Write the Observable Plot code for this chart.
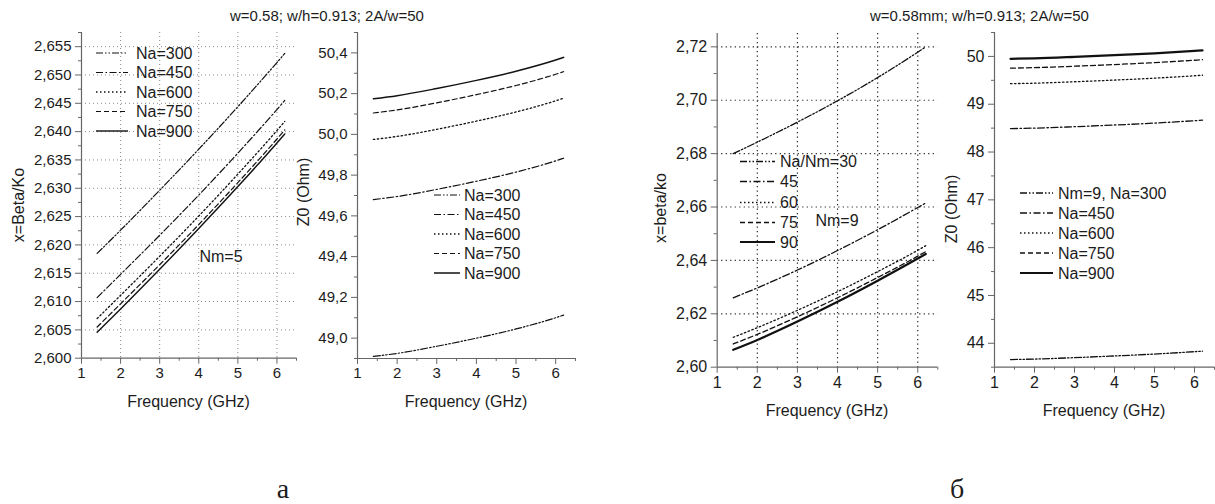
<!DOCTYPE html>
<html><head><meta charset="utf-8">
<script src="https://cdn.jsdelivr.net/npm/d3@7"></script>
<script src="https://cdn.jsdelivr.net/npm/@observablehq/plot@0.6"></script>
<style>
html,body{margin:0;padding:0;background:#fff;}
#wrap{position:relative;width:1215px;height:504px;overflow:hidden;font-family:"Liberation Sans",Arial,sans-serif;}
#wrap svg{position:absolute;left:0;top:0;}
</style></head><body><div id="wrap"></div>
<script>
// ---------- data ----------
const freq = [1.4, 2, 3, 4, 5, 6, 6.2];
const xTicks = [1, 2, 3, 4, 5, 6];
const xMinor = [1.5, 2.5, 3.5, 4.5, 5.5, 6.5];

// panel a-left: x = Beta/Ko, Nm=5
const labelsA1 = ["Na=300", "Na=450", "Na=600", "Na=750", "Na=900"];
const betaA_300 = [2.6185, 2.6226, 2.62965, 2.6369, 2.6444, 2.6522, 2.6538];
const betaA_450 = [2.6107, 2.6148, 2.6217, 2.6288, 2.6362, 2.6439, 2.6455];
const betaA_600 = [2.6070, 2.6111, 2.6180, 2.6251, 2.6325, 2.6402, 2.6418];
const betaA_750 = [2.6055, 2.6096, 2.6165, 2.6236, 2.6310, 2.6387, 2.6403];
const betaA_900 = [2.6046, 2.6087, 2.6157, 2.6229, 2.6303, 2.6380, 2.6396];
const yTicksA1 = [2.600, 2.605, 2.610, 2.615, 2.620, 2.625, 2.630, 2.635, 2.640, 2.645, 2.650, 2.655];

// panel a-right: Z0
const labelsA2 = ["Na=300", "Na=450", "Na=600", "Na=750", "Na=900"];
const z0A_300 = [48.910, 48.925, 48.960, 49.000, 49.045, 49.100, 49.113];
const z0A_450 = [49.680, 49.695, 49.730, 49.770, 49.815, 49.870, 49.883];
const z0A_600 = [49.975, 49.990, 50.025, 50.065, 50.110, 50.165, 50.178];
const z0A_750 = [50.105, 50.120, 50.155, 50.195, 50.240, 50.295, 50.308];
const z0A_900 = [50.175, 50.190, 50.225, 50.265, 50.310, 50.365, 50.378];
const yTicksA2 = [49.0, 49.2, 49.4, 49.6, 49.8, 50.0, 50.2, 50.4];

// panel b-left: x = beta/ko, Nm=9
const labelsB1 = ["Na/Nm=30", "45", "60", "75", "90"];
const betaB_30 = [2.6800, 2.6843, 2.6918, 2.6998, 2.7085, 2.7180, 2.7200];
const betaB_45 = [2.6260, 2.6297, 2.6364, 2.6437, 2.6515, 2.6598, 2.6615];
const betaB_60 = [2.6112, 2.6148, 2.6213, 2.6283, 2.6358, 2.6438, 2.6455];
const betaB_75 = [2.6087, 2.6123, 2.6189, 2.6260, 2.6336, 2.6416, 2.6433];
const betaB_90 = [2.6065, 2.6102, 2.6171, 2.6245, 2.6324, 2.6407, 2.6424];
const yTicksB1 = [2.60, 2.62, 2.64, 2.66, 2.68, 2.70, 2.72];

// panel b-right: Z0
const labelsB2 = ["Nm=9, Na=300", "Na=450", "Na=600", "Na=750", "Na=900"];
const z0B_300 = [43.660, 43.670, 43.700, 43.735, 43.775, 43.825, 43.836];
const z0B_450 = [48.490, 48.500, 48.530, 48.565, 48.605, 48.655, 48.666];
const z0B_600 = [49.430, 49.440, 49.470, 49.505, 49.545, 49.595, 49.606];
const z0B_750 = [49.755, 49.765, 49.795, 49.830, 49.870, 49.920, 49.931];
const z0B_900 = [49.950, 49.960, 49.990, 50.025, 50.065, 50.115, 50.126];
const yTicksB2 = [44, 45, 46, 47, 48, 49, 50];

// ---------- styling ----------
const W = 1215, H = 504;
const axisColor = "#666";
const textColor = "#1c1c1c";
const lineColor = "#111";
const dashes = ["7,2,1.5,2,1.5,2", "7,2.5,1.5,2.5", "1.5,2.5", "5,3", null];
const loc = d3.formatLocale({decimal: ",", thousands: " ", grouping: [3], currency: ["", ""]});
const mids = (t, step) => [...d3.pairs(t).map(([a, b]) => (a + b) / 2), t[t.length - 1] + step / 2];

function makePanel(cfg) {
  const marks = [];
  if (cfg.grid) {
    marks.push(Plot.gridX({ticks: xTicks.slice(1), stroke: cfg.grid.stroke, strokeOpacity: 1, strokeWidth: cfg.grid.width, strokeDasharray: cfg.grid.dash}));
    marks.push(Plot.gridY({ticks: cfg.yTicks.slice(1), stroke: cfg.grid.stroke, strokeOpacity: 1, strokeWidth: cfg.grid.width, strokeDasharray: cfg.grid.dash}));
  }
  marks.push(Plot.ruleX([cfg.xDomain[0]], {stroke: axisColor, strokeWidth: 1.2}));
  marks.push(Plot.ruleY([cfg.yDomain[0]], {stroke: axisColor, strokeWidth: 1.2}));
  marks.push(Plot.axisY({ticks: cfg.yTicks, tickSize: 6, tickPadding: 4, tickFormat: cfg.fmt, label: null, stroke: axisColor, fill: textColor, fontSize: cfg.fs}));
  marks.push(Plot.axisY({ticks: cfg.yMinor, tickSize: 3, tickFormat: () => "", label: null, stroke: axisColor}));
  marks.push(Plot.axisX({ticks: xTicks, tickSize: 6, tickPadding: 3, tickFormat: d => String(d), label: null, stroke: axisColor, fill: textColor, fontSize: cfg.fs}));
  marks.push(Plot.axisX({ticks: xMinor, tickSize: 3, tickFormat: () => "", label: null, stroke: axisColor}));
  cfg.series.forEach((vals, i) => {
    const rows = vals.map((v, j) => ({x: freq[j], y: v}));
    marks.push(Plot.line(rows, {x: "x", y: "y", stroke: lineColor, strokeWidth: cfg.widths[i], strokeDasharray: dashes[i] || undefined, curve: "monotone-x"}));
  });
  return Plot.plot({
    width: W, height: H,
    marginLeft: cfg.box[0], marginRight: W - cfg.box[1], marginTop: cfg.box[2], marginBottom: H - cfg.box[3],
    x: {type: "linear", domain: cfg.xDomain},
    y: {type: "linear", domain: cfg.yDomain},
    style: {background: "transparent", fontFamily: "'Liberation Sans', Arial, sans-serif", fontSize: cfg.fs + "px", color: textColor, overflow: "visible"},
    marks
  });
}

const wrap = document.getElementById("wrap");
const panels = [
  {series: [betaA_300, betaA_450, betaA_600, betaA_750, betaA_900], xDomain: [1, 6.5], yDomain: [2.600, 2.6575],
   box: [81, 296, 32, 357.7], yTicks: yTicksA1, yMinor: mids(yTicksA1, 0.005), fmt: loc.format(".3f"), fs: 15,
   grid: {stroke: "#8a8a8a", width: 1, dash: "1,3"}, widths: [1.2, 1.2, 1.3, 1.2, 1.4]},
  {series: [z0A_300, z0A_450, z0A_600, z0A_750, z0A_900], xDomain: [1, 6.5], yDomain: [48.9, 50.5],
   box: [357, 575, 32, 358], yTicks: yTicksA2, yMinor: [48.9, ...mids(yTicksA2, 0.2)], fmt: loc.format(".1f"), fs: 15,
   grid: null, widths: [1.2, 1.2, 1.3, 1.2, 1.5]},
  {series: [betaB_30, betaB_45, betaB_60, betaB_75, betaB_90], xDomain: [1, 6.5], yDomain: [2.600, 2.725],
   box: [716.7, 937.3, 33, 366.7], yTicks: yTicksB1, yMinor: mids(yTicksB1, 0.02).slice(0, -1), fmt: loc.format(".2f"), fs: 16,
   grid: {stroke: "#222", width: 1.2, dash: "1.2,3.3"}, widths: [1.3, 1.3, 1.3, 1.3, 2.2]},
  {series: [z0B_300, z0B_450, z0B_600, z0B_750, z0B_900], xDomain: [1, 6.5], yDomain: [43.5, 50.5],
   box: [994, 1214, 32, 366.7], yTicks: yTicksB2, yMinor: [43.5, ...mids(yTicksB2, 1)], fmt: loc.format("d"), fs: 16,
   grid: null, widths: [1.3, 1.3, 1.3, 1.3, 2.2]}
];
panels.forEach(p => wrap.appendChild(makePanel(p)));

// ---------- overlay: titles, labels, legends, annotations ----------
const ov = d3.select(wrap).append("svg").attr("width", W).attr("height", H)
  .style("font-family", "'Liberation Sans', Arial, sans-serif").attr("fill", textColor);

function txt(x, y, s, size, opts = {}) {
  const t = ov.append("text").attr("x", x).attr("y", y).attr("font-size", size).text(s)
    .attr("text-anchor", opts.anchor || "start").attr("dy", opts.dy || "0.35em");
  if (opts.rotate) t.attr("transform", `rotate(-90,${x},${y})`);
  if (opts.family) t.attr("font-family", opts.family);
  return t;
}
// titles
txt(230, 16, "w=0.58; w/h=0.913; 2A/w=50", 15);
txt(870, 16, "w=0.58mm; w/h=0.913; 2A/w=50", 15);
// axis titles
txt(18, 205, "x=Beta/Ko", 16, {anchor: "middle", rotate: true});
txt(303, 192, "Z0 (Ohm)", 16, {anchor: "middle", rotate: true});
txt(660, 208, "x=beta/ko", 16, {anchor: "middle", rotate: true});
txt(951, 209, "Z0 (Ohm)", 16, {anchor: "middle", rotate: true});
txt(188.5, 401, "Frequency (GHz)", 16, {anchor: "middle"});
txt(466, 401, "Frequency (GHz)", 16, {anchor: "middle"});
txt(827, 410, "Frequency (GHz)", 16, {anchor: "middle"});
txt(1104, 410, "Frequency (GHz)", 16, {anchor: "middle"});
// annotations
txt(221, 256, "Nm=5", 16, {anchor: "middle"});
txt(837, 220, "Nm=9", 16, {anchor: "middle"});
// figure letters
txt(283, 488, "а", 28, {anchor: "middle", family: "'Liberation Serif', 'Times New Roman', serif"});
txt(957, 488, "б", 28, {anchor: "middle", family: "'Liberation Serif', 'Times New Roman', serif"});

function legend(x0, x1, xt, ys, labels, widths, size) {
  labels.forEach((lab, i) => {
    const l = ov.append("line").attr("x1", x0).attr("x2", x1).attr("y1", ys[i]).attr("y2", ys[i])
      .attr("stroke", lineColor).attr("stroke-width", widths[i]);
    if (dashes[i]) l.attr("stroke-dasharray", dashes[i]);
    txt(xt, ys[i], lab, size);
  });
}
legend(96, 128, 136, [53, 72.5, 92, 111.5, 131], labelsA1, panels[0].widths, 16);
legend(434, 460, 464, [195, 214.5, 234, 253.5, 273], labelsA2, panels[1].widths, 16);
legend(740, 775, 780, [161.5, 181.5, 202.5, 222.5, 242], labelsB1, panels[2].widths, 16);
legend(1020, 1053, 1058, [193, 213, 233, 253, 273], labelsB2, panels[3].widths, 16);
</script></body></html>
